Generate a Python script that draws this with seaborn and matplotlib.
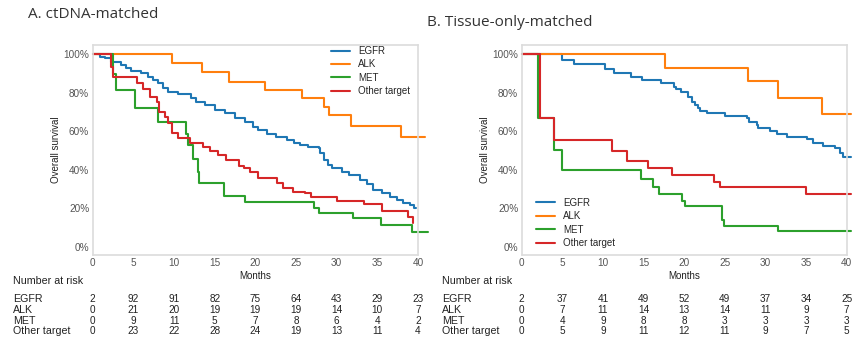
import matplotlib
matplotlib.use("Agg")
import matplotlib.pyplot as plt
import matplotlib.transforms as mtransforms
from matplotlib.ticker import PercentFormatter
import pandas as pd
import seaborn as sns

groups = ["EGFR", "ALK", "MET", "Other target"]
colors = ["#1f77b4", "#ff7f0e", "#2ca02c", "#d62728"]
risk_times = [0, 5, 10, 15, 20, 25, 30, 35, 40]

# ---- A. ctDNA-matched: Kaplan-Meier step curves (months, survival) ----
ct_egfr_t = [0, 0.85, 1.5, 2.3, 3.5, 4.1, 4.75, 6.0, 6.8, 7.4, 8.0, 8.65, 9.3, 10.5,
             12.1, 12.75, 13.8, 15.0, 16.25, 17.5, 18.7, 19.7, 20.3, 21.4, 22.6, 23.9,
             24.7, 25.5, 26.5, 27.8, 28.0, 28.4, 28.9, 29.4, 30.6, 31.5, 32.9, 33.7,
             34.5, 35.6, 36.6, 37.4, 38.2, 39.05, 39.45, 39.7]
ct_egfr_s = [1.0, .988, .979, .962, .944, .927, .913, .901, .884, .866, .849, .823,
             .806, .792, .771, .75, .736, .71, .693, .67, .65, .624, .607, .584, .569,
             .555, .54, .529, .517, .511, .485, .45, .425, .407, .39, .373, .347, .326,
             .295, .277, .26, .243, .229, .217, .20, .20]
ct_alk_t = [0, 9.8, 13.5, 16.8, 21.2, 25.7, 28.5, 29.0, 31.8, 37.9, 40.9]
ct_alk_s = [1.0, .953, .906, .858, .814, .771, .728, .685, .627, .569, .569]
ct_met_t = [0, 2.45, 2.9, 5.2, 8.0, 11.5, 11.7, 12.3, 13.0, 13.1, 16.2, 18.7, 27.2,
            27.8, 31.95, 35.4, 39.3, 41.2]
ct_met_s = [1.0, .895, .814, .722, .65, .584, .529, .456, .39, .33, .264, .231, .20,
            .177, .147, .113, .078, .078]
ct_other_t = [0, 2.25, 2.5, 5.4, 6.15, 7.05, 7.9, 8.2, 8.9, 9.3, 9.7, 10.5, 12.0, 13.6,
              14.4, 15.45, 16.45, 18.05, 18.6, 19.4, 20.3, 22.7, 23.4, 24.65, 26.1,
              26.8, 30.0, 33.4, 35.6, 38.8, 39.4]
ct_other_s = [1.0, .936, .884, .849, .818, .78, .754, .702, .676, .641, .589, .563,
              .537, .52, .497, .477, .451, .421, .407, .39, .355, .33, .307, .286,
              .277, .26, .239, .222, .186, .153, .122]

ct_risk_egfr = [2, 92, 91, 82, 75, 64, 43, 29, 23]
ct_risk_alk = [0, 21, 20, 19, 19, 19, 14, 10, 7]
ct_risk_met = [0, 9, 11, 5, 7, 8, 6, 4, 2]
ct_risk_other = [0, 23, 22, 28, 24, 19, 13, 11, 4]

# ---- B. Tissue-only-matched ----
ts_egfr_t = [0, 5.0, 6.4, 10.3, 11.4, 13.5, 14.8, 17.1, 18.7, 19.0, 19.6, 20.5, 20.9,
             21.3, 21.7, 22.0, 22.8, 25.0, 27.7, 28.0, 29.0, 29.1, 30.6, 31.4, 32.6,
             35.1, 35.9, 37.1, 38.6, 39.2, 39.5, 40.5]
ts_egfr_s = [1.0, .971, .948, .924, .902, .88, .866, .849, .832, .818, .806, .78, .754,
             .736, .719, .705, .693, .681, .667, .65, .633, .619, .601, .584, .572,
             .558, .537, .525, .511, .485, .468, .468]
ts_alk_t = [0, 17.6, 27.8, 31.6, 37.0, 40.5]
ts_alk_s = [1.0, .927, .861, .774, .688, .688]
ts_met_t = [0, 2.05, 3.95, 4.95, 14.7, 16.1, 16.85, 19.75, 20.1, 24.6, 24.95, 31.5, 40.5]
ts_met_s = [1.0, .667, .50, .40, .354, .312, .273, .24, .212, .141, .106, .08, .08]
ts_other_t = [0, 2.3, 4.0, 11.1, 12.95, 15.5, 18.55, 23.65, 24.35, 35.05, 40.5]
ts_other_s = [1.0, .667, .555, .499, .447, .407, .373, .338, .312, .274, .274]

ts_risk_egfr = [2, 37, 41, 49, 52, 49, 37, 34, 25]
ts_risk_alk = [0, 7, 11, 14, 13, 14, 11, 9, 7]
ts_risk_met = [0, 4, 9, 8, 8, 3, 3, 3, 3]
ts_risk_other = [0, 5, 9, 11, 12, 11, 9, 7, 5]


def km_frame(curves):
    parts = [pd.DataFrame({"Months": t, "Survival": s, "Group": g})
             for g, (t, s) in zip(groups, curves)]
    return pd.concat(parts, ignore_index=True)


ct_df = km_frame([(ct_egfr_t, ct_egfr_s), (ct_alk_t, ct_alk_s),
                  (ct_met_t, ct_met_s), (ct_other_t, ct_other_s)])
ts_df = km_frame([(ts_egfr_t, ts_egfr_s), (ts_alk_t, ts_alk_s),
                  (ts_met_t, ts_met_s), (ts_other_t, ts_other_s)])

sns.set_style("white")
plt.rcParams["font.family"] = ["Liberation Sans", "DejaVu Sans"]

W, H = 865, 349
fig = plt.figure(figsize=(W / 100, H / 100), dpi=100)

tick_color = "#555555"
text_color = "#222222"


def px_axes(x0, x1, y_top, y_bot):
    return fig.add_axes([x0 / W, 1 - y_bot / H, (x1 - x0) / W, (y_bot - y_top) / H])


def draw_panel(ax, df, legend_loc, legend_anchor):
    sns.lineplot(data=df, x="Months", y="Survival", hue="Group", hue_order=groups,
                 palette=colors, estimator=None, sort=False, drawstyle="steps-post",
                 linewidth=1.5, clip_on=False, ax=ax)
    ax.set_xlim(0, 40)
    ax.set_ylim(-0.043, 1.048)
    ax.set_xticks(risk_times)
    ax.set_yticks([0, 0.2, 0.4, 0.6, 0.8, 1.0])
    ax.yaxis.set_major_formatter(PercentFormatter(1.0, decimals=0))
    ax.tick_params(axis="both", length=0, labelsize=7.2, labelcolor=tick_color, pad=2.5)
    ax.set_xlabel("Months", fontsize=7, color=text_color, labelpad=2)
    ax.set_ylabel("Overall survival", fontsize=7, color=text_color, labelpad=2)
    for sp in ax.spines.values():
        sp.set_color("#dcdcdc")
        sp.set_linewidth(1.2)
    sns.move_legend(ax, legend_loc, bbox_to_anchor=legend_anchor, title=None,
                    frameon=False, fontsize=7, handlelength=2.0, handletextpad=0.8,
                    labelspacing=0.35, borderpad=0, borderaxespad=0)


def risk_table(ax, label_x, rows):
    tr = mtransforms.blended_transform_factory(ax.transData, fig.transFigure)
    fig.text(label_x / W, 1 - 281 / H, "Number at risk", fontsize=7.7,
             color=text_color, va="center")
    for (name, counts), y in zip(rows, [299, 310, 321, 331.5]):
        fig.text(label_x / W, 1 - y / H, name, fontsize=7.7, color=text_color,
                 va="center")
        for t, n in zip(risk_times, counts):
            ax.text(t, 1 - y / H, str(n), transform=tr, fontsize=7.2,
                    color=text_color, ha="center", va="center", clip_on=False)


ax_a = px_axes(92.7, 418, 45, 255)
draw_panel(ax_a, ct_df, "upper right", (0.9755, 0.995))
risk_table(ax_a, 13, [("EGFR", ct_risk_egfr), ("ALK", ct_risk_alk),
                      ("MET", ct_risk_met), ("Other target", ct_risk_other)])

ax_b = px_axes(521.7, 846.7, 45, 255)
draw_panel(ax_b, ts_df, "lower left", (0.044, 0.033))
risk_table(ax_b, 442, [("EGFR", ts_risk_egfr), ("ALK", ts_risk_alk),
                       ("MET", ts_risk_met), ("Other target", ts_risk_other)])

fig.text(28 / W, 1 - 15 / H, "A. ctDNA-matched", fontsize=11, family="Open Sans",
         color="#333333", va="center")
fig.text(427 / W, 1 - 22.5 / H, "B. Tissue-only-matched", fontsize=11,
         family="Open Sans", color="#333333", va="center")

fig.savefig("out.png", dpi=100)
